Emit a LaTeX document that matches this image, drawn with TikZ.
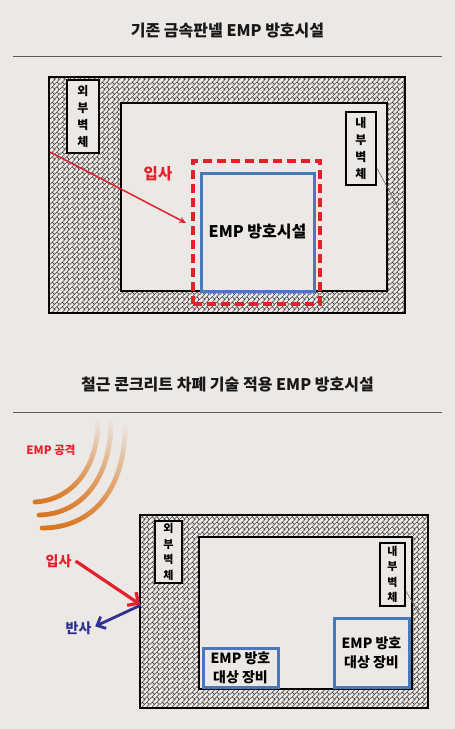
\documentclass[tikz,border=0pt]{standalone}
\usepackage{fontspec}
\setmainfont{Noto Sans CJK KR}
\usetikzlibrary{patterns.meta,fadings,arrows.meta,calc}
\definecolor{bg}{HTML}{ECE8E5}
\definecolor{myred}{HTML}{E3202B}
\definecolor{myblue}{HTML}{4A78BD}
\definecolor{navy}{HTML}{2E3192}
\definecolor{arcorange}{HTML}{D9741C}
\tikzfading[name=fadeup, top color=transparent!100, middle color=transparent!35, bottom color=transparent!0]
\tikzdeclarepattern{
  name=wallhatch,
  type=uncolored,
  bounding box={(0pt,0pt) and (10pt,10pt)},
  tile size={(10pt,10pt)},
  code={
    \draw[line width=0.6pt]
      (-1pt,-1pt) -- (11pt,11pt)
      (-1pt,4pt) -- (6pt,11pt)
      (4pt,-1pt) -- (11pt,6pt)
      (5pt,5pt) -- (2.5pt,7.5pt)
      (10pt,0pt) -- (7.5pt,2.5pt)
      (0pt,0pt) -- (-2.5pt,2.5pt)
      (10pt,10pt) -- (7.5pt,12.5pt)
      (2.5pt,2.5pt) -- (5pt,0pt)
      (7.5pt,7.5pt) -- (10pt,5pt)
      (-2.5pt,7.5pt) -- (0pt,5pt)
      (2.5pt,12.5pt) -- (5pt,10pt);
  }
}
\begin{document}
\begin{tikzpicture}[x=1pt,y=-1pt,
  title/.style={font=\fontsize{16}{19}\selectfont\bfseries, text=black!90},
  rule/.style={draw=black!65, line width=0.9pt},
  wall/.style={draw=black, line width=2.6pt, fill=white, pattern={wallhatch}, pattern color=black!75, inner sep=0pt},
  room/.style={draw=black, line width=2.6pt, fill=bg, inner sep=0pt},
  tag/.style={draw=black, line width=1.2pt, fill=bg, inner sep=0pt, align=center, font=\fontsize{12}{17}\selectfont\bfseries},
  tagsm/.style={tag, font=\fontsize{11}{15.5}\selectfont\bfseries},
  redzone/.style={draw=myred, line width=3.6pt, dash pattern=on 9pt off 5pt, inner sep=0pt},
  bluebox/.style={draw=myblue, line width=3pt, fill=bg, inner sep=0pt, align=center},
  leader/.style={draw=black!60, line width=0.6pt},
  lbl/.style={inner sep=0pt},
  arcst/.style={draw=arcorange, line width=4.8pt, line cap=round, path fading=fadeup}
]
\useasboundingbox[fill=bg] (0,0) rectangle (455,729);

% ---------- top part ----------
\node[title] (t1) at (227.5,31) {기존 금속판넬 EMP 방호시설};
\draw[rule] (13,56) -- (442,56);

\node[wall, minimum width=356pt, minimum height=236pt] (outer1) at (227,195) {};
\node[room, minimum width=266pt, minimum height=188pt] (inner1) at (254,197) {};
\node[tag, minimum width=32pt, minimum height=73pt] (ex1) at (83,116.5) {외\\부\\벽\\체};
\node[tag, minimum width=30pt, minimum height=73pt] (in1) at (361,148.5) {내\\부\\벽\\체};
\coordinate (lead1) at (397,205);
\draw[leader] ($(in1.south east)+(0,-18)$) -- (lead1);

\node[bluebox, minimum width=113pt, minimum height=118pt, font=\fontsize{16}{19}\selectfont\bfseries] (fac1) at (257.5,232) {EMP 방호시설};
\node[redzone, minimum width=127pt, minimum height=143pt] (zone1) at (256.5,232.5) {};

\node[lbl, text=myred, font=\fontsize{15.5}{18}\selectfont\bfseries] (inc1) at (158,174) {입사};
\coordinate (a1s) at (50,152);
\coordinate (a1e) at (186,223);
\draw[myred, line width=1.5pt, -{Stealth[length=7pt,width=6pt]}] (a1s) -- (a1e);

% ---------- bottom part ----------
\node[title] (t2) at (227.5,385) {철근 콘크리트 차폐 기술 적용 EMP 방호시설};
\draw[rule] (13,412) -- (442,412);

\node[lbl, text=myred, font=\fontsize{11.5}{13}\selectfont\bfseries] (emp) at (51,450) {EMP 공격};
\draw[arcst] (98,421) .. controls (98,468) and (72,500) .. (35,502);
\draw[arcst] (111,421) .. controls (111,478) and (82,514) .. (39,515);
\draw[arcst] (125,426) .. controls (125,490) and (92,528) .. (42,528);

\node[wall, minimum width=288pt, minimum height=193pt] (outer2) at (284,611.5) {};
\node[room, minimum width=213pt, minimum height=152pt] (inner2) at (305.5,613) {};
\node[tagsm, minimum width=27pt, minimum height=62pt] (ex2) at (168.5,552) {외\\부\\벽\\체};
\node[tagsm, minimum width=25pt, minimum height=63pt] (in2) at (392.5,574.5) {내\\부\\벽\\체};
\coordinate (lead2) at (422,618);
\draw[leader] ($(in2.south east)+(0,-16)$) -- (lead2);

\node[bluebox, minimum width=75pt, minimum height=39pt, font=\fontsize{14}{19}\selectfont\bfseries] (eq1) at (240.5,667.5) {EMP 방호\\대상 장비};
\node[bluebox, minimum width=75pt, minimum height=69pt, font=\fontsize{14}{19}\selectfont\bfseries] (eq2) at (371.5,652.5) {EMP 방호\\대상 장비};

\node[lbl, text=myred, font=\fontsize{14}{16}\selectfont\bfseries] (inc2) at (58.5,561) {입사};
\node[lbl, text=navy, font=\fontsize{14}{16}\selectfont\bfseries] (ref2) at (78.5,628) {반사};
\coordinate (hit) at (141,605);
\draw[myred, line width=3.2pt, shorten >=1pt, -{Straight Barb[length=8pt,width=16pt]}] ([xshift=4pt]inc2.east) -- (hit);
\draw[navy, line width=2.8pt, shorten >=4pt, -{Straight Barb[length=7pt,width=13pt]}] (hit) -- (ref2.east);
\end{tikzpicture}
\end{document}
